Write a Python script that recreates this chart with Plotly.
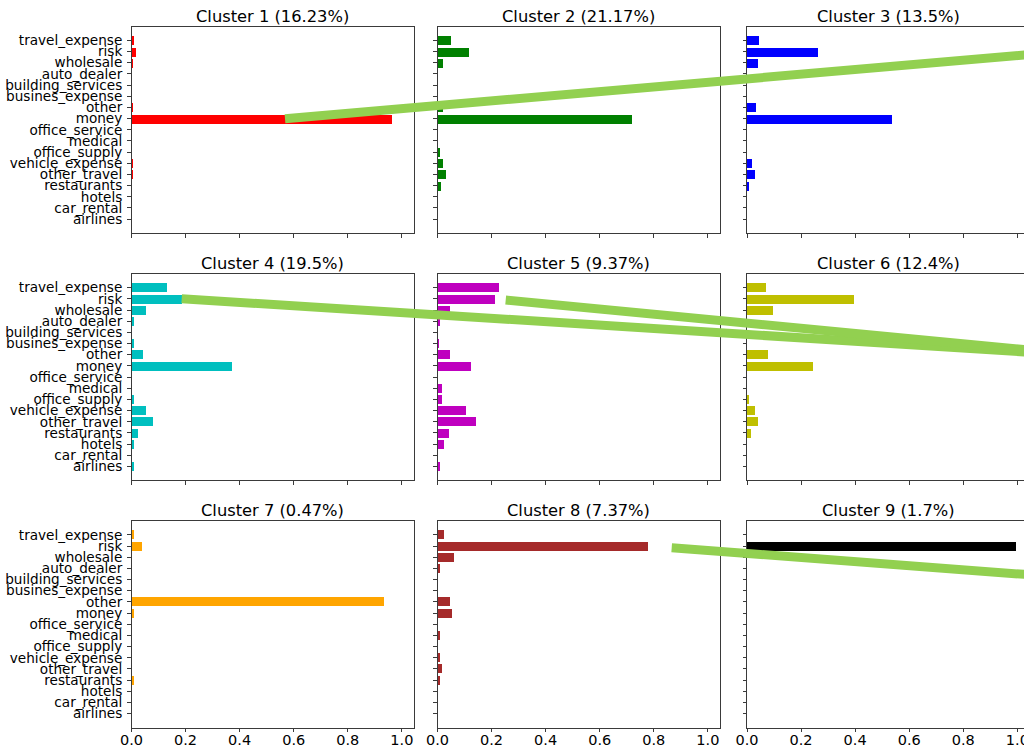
import plotly.graph_objects as go

# Merchant categories, listed top to bottom as they appear on each panel
categories = [
    "travel_expense", "risk", "wholesale", "auto_dealer", "building_services",
    "busines_expense", "other", "money", "office_service", "medical",
    "office_supply", "vehicle_expense", "other_travel", "restaurants",
    "hotels", "car_rental", "airlines",
]

# Share of spend per category inside each cluster (same order as categories)
cluster_1 = [0.004, 0.013, 0.002, 0, 0, 0, 0.002, 0.962, 0, 0, 0, 0.002, 0.002, 0, 0, 0, 0]
cluster_2 = [0.049, 0.116, 0.020, 0, 0, 0, 0.020, 0.719, 0, 0, 0.007, 0.020, 0.029, 0.010, 0, 0, 0]
cluster_3 = [0.044, 0.264, 0.039, 0, 0, 0, 0.034, 0.536, 0, 0, 0, 0.020, 0.029, 0.007, 0, 0, 0]
cluster_4 = [0.131, 0.184, 0.052, 0.007, 0, 0.005, 0.040, 0.371, 0, 0, 0.007, 0.052, 0.078, 0.022, 0.007, 0, 0.007]
cluster_5 = [0.227, 0.209, 0.046, 0.007, 0, 0.002, 0.046, 0.121, 0, 0.013, 0.016, 0.103, 0.140, 0.039, 0.023, 0, 0.009]
cluster_6 = [0.070, 0.397, 0.095, 0, 0, 0, 0.079, 0.244, 0, 0, 0.005, 0.029, 0.040, 0.014, 0, 0, 0]
cluster_7 = [0.007, 0.036, 0, 0, 0, 0, 0.931, 0.007, 0, 0, 0, 0, 0, 0.007, 0, 0, 0]
cluster_8 = [0.023, 0.776, 0.059, 0.006, 0, 0, 0.043, 0.051, 0, 0.005, 0, 0.009, 0.013, 0.005, 0, 0, 0]
cluster_9 = [0, 0.995, 0, 0, 0, 0, 0, 0, 0, 0, 0, 0, 0, 0, 0, 0, 0]

clusters = [cluster_1, cluster_2, cluster_3, cluster_4, cluster_5,
            cluster_6, cluster_7, cluster_8, cluster_9]

# Percentage of customers in each cluster
cluster_share = [16.23, 21.17, 13.5, 19.5, 9.37, 12.4, 0.47, 7.37, 1.7]

bar_colors = ["red", "green", "blue", "#00bfbf", "#bf00bf", "#bfbf00",
              "orange", "brown", "black"]

x_ticks = [0.0, 0.2, 0.4, 0.6, 0.8, 1.0]

# ---- page geometry (pixels) ----
W, H = 1024, 749
col_px = [(131.5, 414.0), (437.5, 720.0), (747.0, 1029.5)]
row_px = [(26.5, 233.0), (273.8, 480.3), (521.0, 727.5)]
x_max = 1.045
y_range = [-1.24, 17.24]

FONT = "DejaVu Sans"
AXIS_COLOR = "#3a3a3a"

# green marker strokes across the panels, in pixels: (x0, y0, x1, y1)
strokes = [
    (285.0, 118.7, 1030.0, 54.5),
    (181.7, 298.7, 1030.0, 352.3),
    (505.7, 300.0, 1030.0, 350.1),
    (671.7, 547.8, 1030.0, 574.8),
]

fig = go.Figure()
annotations = []

for i, (vals, share, color) in enumerate(zip(clusters, cluster_share, bar_colors)):
    r, c = divmod(i, 3)
    n = i + 1
    xa = "x" if n == 1 else f"x{n}"
    ya = "y" if n == 1 else f"y{n}"

    fig.add_trace(go.Bar(
        x=vals, y=categories, orientation="h", width=0.8,
        marker=dict(color=color, line=dict(width=0)),
        xaxis=xa, yaxis=ya, showlegend=False, hoverinfo="x+y",
    ))

    x0, x1 = col_px[c]
    y0, y1 = row_px[r]
    d0 = x0 / W
    d1 = min(x1, W) / W
    xr = x_max * (min(x1, W) - x0) / (x1 - x0)

    xkey = "xaxis" if n == 1 else f"xaxis{n}"
    ykey = "yaxis" if n == 1 else f"yaxis{n}"

    fig.layout[xkey] = dict(
        domain=[d0, d1], range=[0, xr], anchor=ya, automargin=False,
        tickmode="array", tickvals=x_ticks, tickformat=".1f",
        showticklabels=(r == 2), ticks="outside", ticklen=3.5,
        tickwidth=1, tickcolor=AXIS_COLOR,
        showline=True, linecolor=AXIS_COLOR, linewidth=1, mirror=True,
        showgrid=False, zeroline=False, fixedrange=True,
        tickfont=dict(family=FONT, size=14.5, color="black"),
        ticklabelstandoff=-4, ticklabeloverflow="allow",
    )
    fig.layout[ykey] = dict(
        domain=[1 - y1 / H, 1 - y0 / H], anchor=xa, automargin=False,
        type="category", categoryorder="array",
        categoryarray=categories[::-1], range=y_range,
        tickmode="array", tickvals=categories,
        showticklabels=(c == 0), ticks="outside", ticklen=3.5,
        tickwidth=1, tickcolor=AXIS_COLOR,
        showline=True, linecolor=AXIS_COLOR, linewidth=1,
        mirror=(c != 2),
        showgrid=False, zeroline=False, fixedrange=True,
        tickfont=dict(family=FONT, size=13.6, color="black"),
        ticklabelstandoff=2,
    )

    annotations.append(dict(
        text=f"Cluster {n} ({share}%)",
        x=(x0 + x1) / 2 / W, y=1 - (y0 - 10.5) / H,
        xref="paper", yref="paper", xanchor="center", yanchor="middle",
        showarrow=False, font=dict(family=FONT, size=16.3, color="black"),
    ))

shapes = [
    dict(type="line", xref="paper", yref="paper",
         x0=sx0 / W, y0=1 - sy0 / H, x1=sx1 / W, y1=1 - sy1 / H,
         line=dict(color="#92d050", width=9), layer="above")
    for sx0, sy0, sx1, sy1 in strokes
]

fig.update_layout(
    template="none",
    width=W, height=H, autosize=False,
    margin=dict(l=0, r=0, t=0, b=0, pad=0, autoexpand=False),
    paper_bgcolor="white", plot_bgcolor="white",
    annotations=annotations, shapes=shapes,
    font=dict(family=FONT, color="black"),
    bargap=0,
)

fig.write_html("out.html", config={"displayModeBar": False})
